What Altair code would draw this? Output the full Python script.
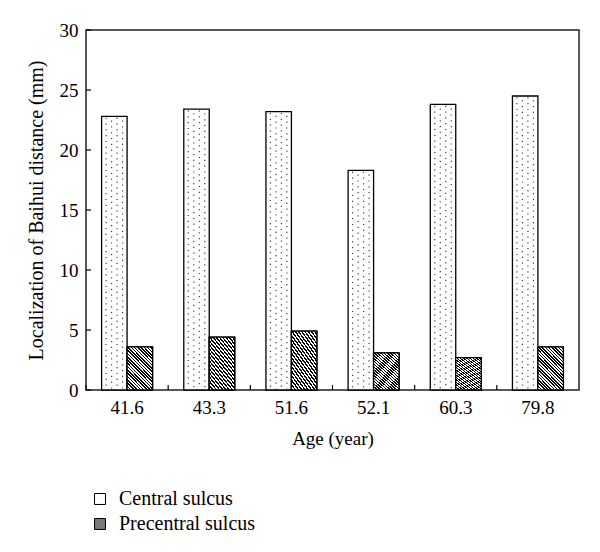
import altair as alt
import pandas as pd

# ---- data ----
ages = ["41.6", "43.3", "51.6", "52.1", "60.3", "79.8"]
central = [22.8, 23.4, 23.2, 18.3, 23.8, 24.5]
precentral = [3.6, 4.4, 4.9, 3.1, 2.7, 3.6]
series_names = ["Central sulcus", "Precentral sulcus"]
y_ticks = [0, 5, 10, 15, 20, 25, 30]

rows = []
for a, c, p in zip(ages, central, precentral):
    rows.append({"age": a, "series": series_names[0], "value": c})
    rows.append({"age": a, "series": series_names[1], "value": p})
df = pd.DataFrame(rows)
tick_df = pd.DataFrame({"value": y_ticks})
age_df = pd.DataFrame({"age": ages})

FONT = "Liberation Serif"
W, H = 493, 360
P_IN, P_OUT = 0.38, 0.19

x_scale = alt.Scale(domain=ages, paddingInner=P_IN, paddingOuter=P_OUT)
y_scale = alt.Scale(domain=[0, 30], nice=False)
xo_scale = alt.Scale(domain=series_names, paddingInner=0, paddingOuter=0)

x_axis = alt.Axis(title="Age (year)", labelAngle=0, ticks=False,
                  domain=False, labelPadding=8, titlePadding=12,
                  labelFontSize=19, titleFontSize=19)
y_axis = alt.Axis(title="Localization of Baihui distance (mm)",
                  values=y_ticks, ticks=False, domain=False,
                  grid=False, labelPadding=8, titlePadding=13,
                  labelFontSize=19, titleFontSize=20)

x_main = alt.X("age:N", scale=x_scale, sort=ages, axis=x_axis)
y_main = alt.Y("value:Q", scale=y_scale, axis=y_axis)
xo = alt.XOffset("series:N", sort=series_names, scale=xo_scale)

base = alt.Chart(df)

bars = base.mark_bar(stroke="black", strokeWidth=1.3).encode(
    x=x_main, xOffset=xo, y=y_main,
    fill=alt.Fill("series:N", sort=series_names,
                  scale=alt.Scale(domain=series_names, range=["white", "#7a7a7a"]),
                  legend=alt.Legend(title=None, orient="none", legendX=4, legendY=459,
                                    symbolType="square", symbolSize=120,
                                    symbolStrokeColor="black", symbolStrokeWidth=1,
                                    labelFont=FONT, labelFontSize=20, labelColor="black",
                                    rowPadding=5, labelOffset=9)),
)

# diagonal hatching for the precentral bars (striped gradient)
N = 21
stops = []
for k in range(N):
    stops += [
        {"offset": k / N, "color": "black"},
        {"offset": (k + 0.5) / N, "color": "black"},
        {"offset": (k + 0.5) / N, "color": "white"},
        {"offset": (k + 1) / N, "color": "white"},
    ]
hatch_fill = {"gradient": "linear", "x1": 0, "y1": 1, "x2": 0.706, "y2": -0.176, "stops": stops}

hatch = base.transform_filter(alt.datum.series == series_names[1]).mark_bar(
    fill=hatch_fill, stroke="black", strokeWidth=1.3
).encode(x=x_main, xOffset=xo, y=y_main)

# sparse dot pattern for the central bars (dashed rules)
dot_layers = []
for off, dash_off in [(-8.25, 4.5), (-2.75, 1.6), (2.75, 4.5), (8.25, 1.6)]:
    dot_layers.append(
        base.transform_filter(alt.datum.series == series_names[0]).mark_rule(
            xOffset=off, stroke="#444", strokeWidth=1.2,
            strokeDash=[1.2, 4.6], strokeDashOffset=dash_off
        ).encode(
            x=alt.X("age:N", scale=x_scale, sort=ages, bandPosition=0.25, axis=x_axis),
            y=y_main, y2=alt.datum(0),
        )
    )

# inward ticks
ytick_rules = alt.Chart(tick_df).mark_rule(color="black", strokeWidth=1.2).encode(
    y=y_main, x=alt.value(0), x2=alt.value(5)
)
xtick_rules = alt.Chart(age_df).mark_rule(
    color="black", strokeWidth=1.2, xOffset=-P_OUT * (W / 6)
).encode(
    x=alt.X("age:N", scale=x_scale, sort=ages, bandPosition=0, axis=x_axis),
    y=alt.value(H), y2=alt.value(H - 5),
)

chart = alt.layer(bars, hatch, *dot_layers, ytick_rules, xtick_rules).properties(
    width=W, height=H,
    autosize=alt.AutoSizeParams(type="none"),
    padding={"left": 78, "top": 22, "right": 13, "bottom": 162},
).configure_view(
    stroke="#222", strokeWidth=1.5
).configure_axis(
    labelFont=FONT, titleFont=FONT,
    labelColor="black", titleColor="black", titleFontWeight="normal",
)

chart.save("out.html", embed_options={"renderer": "svg", "actions": False})
